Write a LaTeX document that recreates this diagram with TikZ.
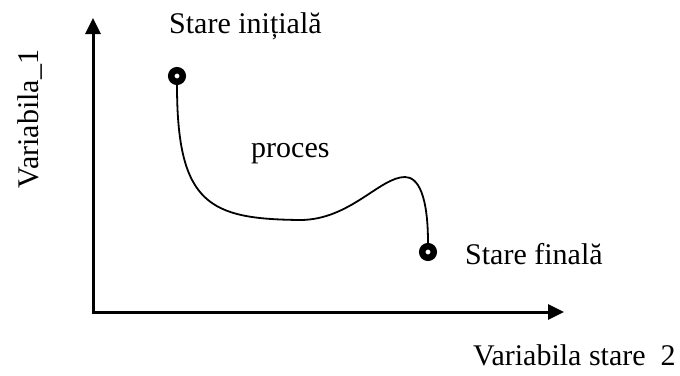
\documentclass[tikz,border=0pt]{standalone}
\usepackage{fontspec}
\setmainfont{Liberation Serif}
\usepackage{tikz}
\usetikzlibrary{arrows.meta,positioning}
\tikzset{
  axis/.style={line width=3pt,black,
    {Triangle[length=16pt,width=15pt]}-{Triangle[length=16pt,width=15pt]}},
  marker/.style={circle,draw=black,fill=white,line width=6.5pt,
    minimum size=11.5pt,inner sep=0pt},
  trajectory/.style={line width=1.8pt,black},
  lbl/.style={font=\fontsize{30}{36}\selectfont,inner sep=0pt}
}
\begin{document}
\begin{tikzpicture}[x=1pt,y=-1pt]
  \useasboundingbox (0,0) rectangle (680,375);
  % axes
  \coordinate (origin) at (93,312);
  \coordinate (ytip) at (93,18);
  \coordinate (xtip) at (564,312);
  \draw[axis] (ytip) -- (origin) -- (xtip);
  \node[lbl,anchor=base west] (xlabel) at (473,365) {Variabila stare\ \ 2};
  \node[lbl,rotate=90,anchor=base] (ylabel) at (38,119) {Variabila\_1};
  % states
  \node[marker] (start) at (177,76) {};
  \node[marker] (final) at (428,252) {};
  \node[lbl,anchor=base west] (startlbl) at (169,33) {Stare inițială};
  \node[lbl,anchor=base west] (finallbl) at (465,264) {Stare finală};
  % process
  \draw[trajectory] (start.south) .. controls (177,205) and (210,219) .. (300,220)
    .. controls (350,220) and (380,177) .. (405,177)
    .. controls (418,177) and (428,195) .. (final.north);
  \node[lbl,anchor=base west] (proclbl) at (251,157) {proces};
\end{tikzpicture}
\end{document}
